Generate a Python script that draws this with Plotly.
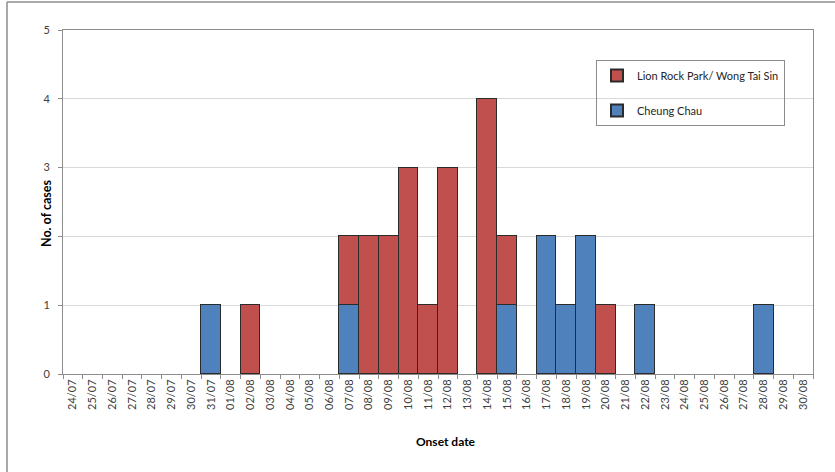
import plotly.graph_objects as go

dates = ["24/07", "25/07", "26/07", "27/07", "28/07", "29/07", "30/07", "31/07",
         "01/08", "02/08", "03/08", "04/08", "05/08", "06/08", "07/08", "08/08",
         "09/08", "10/08", "11/08", "12/08", "13/08", "14/08", "15/08", "16/08",
         "17/08", "18/08", "19/08", "20/08", "21/08", "22/08", "23/08", "24/08",
         "25/08", "26/08", "27/08", "28/08", "29/08", "30/08"]

cheung_chau = [0, 0, 0, 0, 0, 0, 0, 1,
               0, 0, 0, 0, 0, 0, 1, 0,
               0, 0, 0, 0, 0, 0, 1, 0,
               2, 1, 2, 0, 0, 1, 0, 0,
               0, 0, 0, 1, 0, 0]

lion_rock = [0, 0, 0, 0, 0, 0, 0, 0,
             0, 1, 0, 0, 0, 0, 1, 2,
             2, 3, 1, 3, 0, 4, 1, 0,
             0, 0, 0, 1, 0, 0, 0, 0,
             0, 0, 0, 0, 0, 0]

y_ticks = [0, 1, 2, 3, 4, 5]
y_ticktext = ["0", "1", "", "3", "4", "5"]

FONT = "Lato"
W, H = 835, 472
L, R, T, B = 63, 813, 30, 374


def nz(vals):
    return [v if v else None for v in vals]


fig = go.Figure()
fig.add_trace(go.Bar(
    x=dates, y=nz(cheung_chau), name="Cheung Chau",
    marker=dict(color="#4F81BD", line=dict(color="#2b2b2b", width=1)),
    legendrank=2, legendgroup="b",
))
fig.add_trace(go.Bar(
    x=dates, y=nz(lion_rock), name="Lion Rock Park/ Wong Tai Sin",
    marker=dict(color="#C0504D", line=dict(color="#2b2b2b", width=1)),
    legendrank=1, legendgroup="a",
))


def px(xp):
    return (xp - L) / (R - L)


def py(yp):
    return (B - yp) / (B - T)


fig.update_layout(
    width=W, height=H,
    margin=dict(l=L, r=W - R, t=T, b=H - B, pad=0),
    barmode="stack", bargap=0,
    paper_bgcolor="white", plot_bgcolor="white",
    font=dict(family=FONT, size=11, color="#404040"),
    showlegend=True,
    legend=dict(
        x=px(596), y=py(60), xanchor="left", yanchor="top",
        bordercolor="#8c8c8c", borderwidth=1, bgcolor="rgba(255,255,255,0)",
        font=dict(family=FONT, size=11, color="#262626"),
        traceorder="grouped", tracegroupgap=16,
        itemsizing="constant", itemwidth=30,
    ),
    xaxis=dict(
        type="category", categoryorder="array", categoryarray=dates,
        tickangle=-90, showline=True, linecolor="#8c8c8c", linewidth=1,
        mirror=True, ticks="outside", ticklen=4, tickcolor="#8c8c8c",
        tickson="boundaries", showgrid=False,
        tickfont=dict(family=FONT, size=11, color="#404040"),
    ),
    yaxis=dict(
        range=[0, 5], tickvals=y_ticks, ticktext=y_ticktext,
        showline=True, linecolor="#8c8c8c", linewidth=1, mirror=True,
        ticks="outside", ticklen=4, tickcolor="#8c8c8c",
        showgrid=True, gridcolor="#d9d9d9", gridwidth=1,
        zeroline=False, ticklabelstandoff=6,
        tickfont=dict(family=FONT, size=11, color="#404040"),
    ),
    annotations=[
        dict(text="<b>No. of cases</b>", textangle=-90, x=px(46), y=py(214),
             xref="paper", yref="paper", showarrow=False,
             xanchor="center", yanchor="middle",
             font=dict(family=FONT, size=12.5, color="#000000")),
        dict(text="<b>Onset date</b>", x=px(446), y=py(442),
             xref="paper", yref="paper", showarrow=False,
             xanchor="center", yanchor="middle",
             font=dict(family=FONT, size=12, color="#000000")),
    ],
    shapes=[
        dict(type="line", xref="paper", yref="paper",
             x0=px(7), x1=px(835), y0=py(2), y1=py(2),
             line=dict(color="#8c8c8c", width=1.5)),
        dict(type="line", xref="paper", yref="paper",
             x0=px(7), x1=px(7), y0=py(2), y1=py(472),
             line=dict(color="#8c8c8c", width=1.5)),
    ],
)

fig.write_html("out.html", config={"displayModeBar": False},
               post_script="document.body.style.margin='0';")
